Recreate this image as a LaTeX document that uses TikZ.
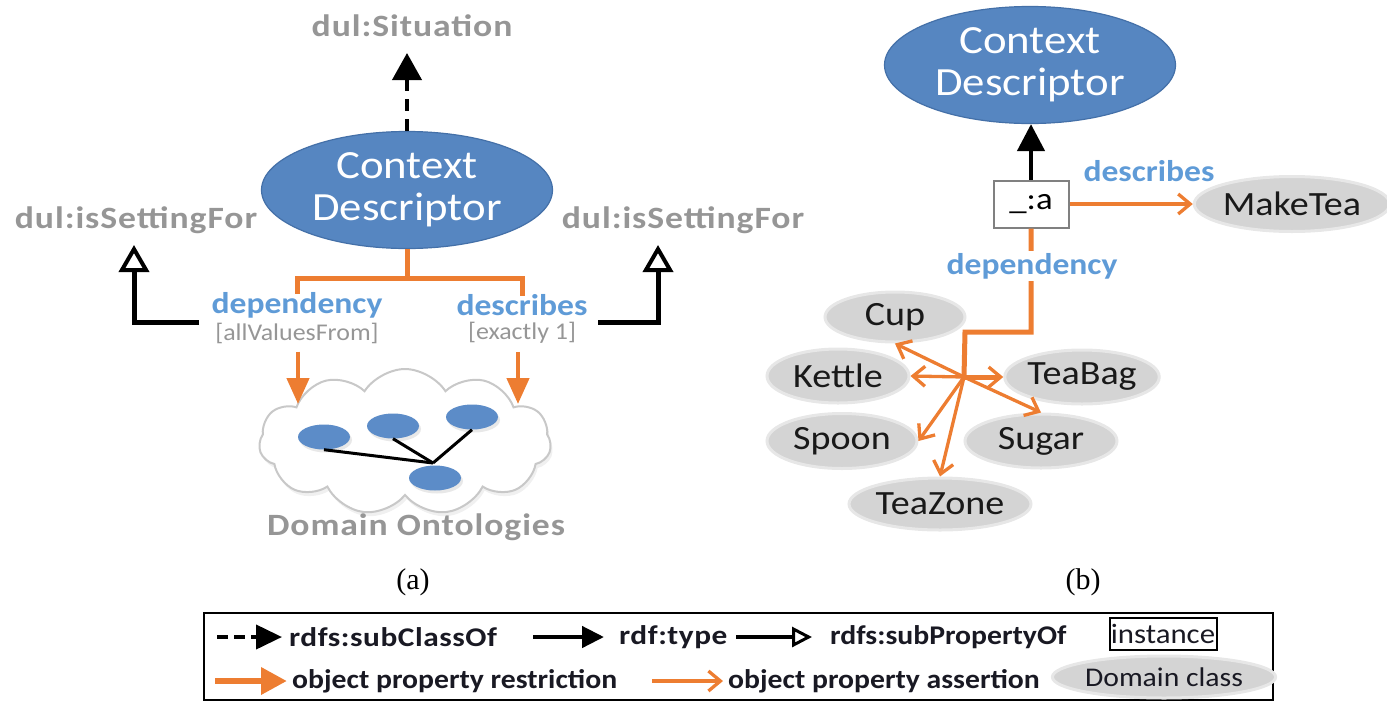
\documentclass[tikz,border=0pt]{standalone}
\usepackage{fontspec}
\setmainfont{Carlito}
\newfontfamily\serifnum{Liberation Serif}
\newfontfamily\fGray[FakeStretch=1.15,LetterSpace=3]{Carlito}
\newfontfamily\fWide[FakeStretch=1.12]{Carlito}
\newfontfamily\fCard[FakeStretch=1.08]{Carlito}
\newfontfamily\fLeg[FakeStretch=1.1]{Carlito}
\newfontfamily\fLegW[FakeStretch=1.16,LetterSpace=2]{Carlito}
\usetikzlibrary{arrows.meta,shapes.geometric,shapes.symbols,shadows}

\definecolor{cdblue}{RGB}{86,134,193}
\definecolor{cdedge}{RGB}{68,112,168}
\definecolor{lblue}{RGB}{95,155,215}
\definecolor{gtext}{RGB}{150,150,150}
\definecolor{orng}{RGB}{237,125,49}
\definecolor{dgray}{RGB}{212,212,212}
\definecolor{dkline}{RGB}{200,200,200}
\definecolor{legtext}{RGB}{25,25,35}
\definecolor{ontoblue}{RGB}{92,140,200}

\tikzset{
  cd/.style={ellipse, draw=cdedge, line width=1.2pt, fill=cdblue, text=white,
    align=center, inner sep=0pt, minimum width=291pt, minimum height=117pt,
    font=\fWide\fontsize{40}{42}\selectfont},
  glabel/.style={text=gtext, inner sep=0pt, font=\fGray\bfseries\fontsize{31}{34}\selectfont},
  blabel/.style={text=lblue, inner sep=0pt, font=\fWide\bfseries\fontsize{30}{34}\selectfont},
  card/.style={text=gtext, inner sep=0pt, font=\fCard\fontsize{24}{26}\selectfont},
  domcls/.style={ellipse, fill=dgray, draw=dgray!55, line width=3pt, inner sep=0pt,
    text=black!90, font=\fWide\fontsize{34}{36}\selectfont},
  onto/.style={ellipse, fill=ontoblue, inner sep=0pt, minimum width=52pt, minimum height=25pt,
    drop shadow={shadow xshift=2pt, shadow yshift=-3pt, opacity=0.18}},
  legtxt/.style={anchor=west, inner sep=0pt, text=legtext, font=\fLeg\bfseries\fontsize{27}{29}\selectfont},
  legtxtw/.style={legtxt, font=\fLegW\bfseries\fontsize{27}{29}\selectfont},
  caption/.style={inner sep=0pt, font=\serifnum\fontsize{30}{32}\selectfont},
  subclass/.style={draw=black, line width=4pt, dash pattern=on 12pt off 8pt,
    -{Triangle[length=27pt,width=29pt]}},
  rdftype/.style={draw=black, line width=4.5pt, -{Triangle[length=27pt,width=27pt]}},
  subprop/.style={draw=black, line width=5pt,
    -{Triangle[open,length=27pt,width=30pt,line width=4pt]}},
  restr/.style={draw=orng, line width=4.5pt, -{Triangle[length=26pt,width=22pt]}},
  assert/.style={draw=orng, line width=3.3pt,
    -{Straight Barb[length=12pt,width=20pt,line width=3.3pt]}},
  oline/.style={draw=orng, line width=5pt},
}

\begin{document}
\begin{tikzpicture}[x=1pt, y=-1pt]
\useasboundingbox (0,0) rectangle (1387,702);

% ---------- (a) the descriptor pattern ----------
\node[glabel] (sit) at (412,26) {dul:Situation};
\node[cd] (cd1) at (407,190) {Context\\Descriptor};
\coordinate (sitTip) at (407,53);
\draw[subclass] (cd1.north) -- (sitTip);

\node[glabel] (set1) at (136,220) {dul:isSettingFor};
\node[glabel] (set2) at (683,220) {dul:isSettingFor};

\node[blabel] (dep1) at (297,305) {dependency};
\node[card]   (allv) at (297,333) {[allValuesFrom]};
\node[blabel] (desc1) at (522,305) {describes};
\node[card]   (ex1) at (522,333) {[exactly 1]};

\coordinate (tj) at (407,278);
\draw[oline] (cd1.south) -- (tj);
\draw[oline, line join=miter] ([yshift=-2pt]dep1.north) -- (dep1.north |- tj) -- (desc1.north |- tj) -- ([yshift=-2pt]desc1.north);

% domain ontologies cloud
\node[cloud, cloud puffs=11, cloud puff arc=115, aspect=2, draw=dkline, line width=2pt,
      fill=white, minimum width=292pt, minimum height=146pt, inner sep=0pt,
      drop shadow={shadow xshift=2pt, shadow yshift=-4pt, opacity=0.12}] (cloud) at (405,442) {};
\node[onto] (do1) at (324,437) {};
\node[onto] (do2) at (393,426) {};
\node[onto] (do3) at (472,417) {};
\node[onto] (do4) at (435,478) {};
\coordinate (oj) at (433,463);
\draw[line width=3pt] (do1.south) -- (oj);
\draw[line width=3pt] (do2.south) -- (oj);
\draw[line width=3pt] (do3.south) -- (oj);
\node[glabel] (domtxt) at (416,527) {Domain Ontologies};

\coordinate (rl) at (298,404);
\coordinate (rr) at (518,404);
\draw[restr] ([yshift=-8pt]allv.south -| rl) -- (rl);
\draw[restr] ([yshift=-8pt]ex1.south -| rr) -- (rr);

% sub-property links
\coordinate (sls) at (199,322);
\coordinate (slt) at (134,245);
\draw[subprop] (sls) -| (slt);
\coordinate (srs) at (598,322);
\coordinate (srt) at (658,245);
\draw[subprop] (srs) -| (srt);

\node[caption] (capa) at (413,582) {(a)};

% ---------- (b) an instance of the pattern ----------
\node[cd] (cd2) at (1030,65) {Context\\Descriptor};
\node[draw=gray, line width=2pt, fill=white, minimum width=75pt, minimum height=47pt,
      inner sep=0pt, font=\fWide\fontsize{31}{33}\selectfont] (inst) at (1031,204) {\_:a};
\draw[rdftype] (inst.north) -- (inst.north |- cd2.south);

\node[blabel] (desc2) at (1149,171) {describes};
\node[domcls, minimum width=185pt, minimum height=55pt] (maketea) at (1292,204) {MakeTea};
\draw[assert] (inst.east) -- (maketea.west);

\node[domcls, minimum width=140pt, minimum height=50pt] (cup) at (895,317) {Cup};
\node[domcls, minimum width=142pt, minimum height=54pt] (kettle) at (838,376) {Kettle};
\node[domcls, minimum width=132pt, minimum height=54pt] (teabag) at (1082,377) {TeaBag};
\node[domcls, minimum width=150pt, minimum height=55pt] (spoon) at (842,441) {Spoon};
\node[domcls, minimum width=152pt, minimum height=54pt] (sugar) at (1041,441) {Sugar};
\node[domcls, minimum width=146pt, minimum height=52pt] (teazone) at (940,504) {TeaZone};

\coordinate (k1) at (1031,332);
\coordinate (k2) at (965,332);
\coordinate (hub) at (964,377);
\draw[oline, line join=miter] (inst.south) -- (k1) -- (k2) -- (hub);
\node[blabel, fill=white, inner ysep=2pt, inner xsep=1pt] (dep2) at (1032,266) {dependency};

\draw[assert] (hub) -- (cup.south);
\draw[assert] (hub) -- (kettle.east);
\draw[assert, line width=5pt] (hub) -- (teabag.west);
\draw[assert] (hub) -- (sugar.north);
\draw[assert] (hub) -- (spoon.east);
\draw[assert] (hub) -- (teazone.north);

\node[caption] (capb) at (1083,582) {(b)};

% ---------- legend ----------
\node[draw, line width=2pt, minimum width=1069pt, minimum height=87pt, inner sep=0pt] (leg) at (738.5,656) {};

\coordinate (l1a) at (217,637);
\coordinate (l1b) at (282,637);
\draw[draw=black, line width=4pt, dash pattern=on 11pt off 6pt, -{Triangle[length=26pt,width=24pt]}] (l1a) -- (l1b);
\node[legtxtw] (t1) at (289,637) {rdfs:subClassOf};

\coordinate (l2a) at (533,637);
\coordinate (l2b) at (604,637);
\draw[draw=black, line width=4.5pt, -{Triangle[length=22pt,width=21pt]}] (l2a) -- (l2b);
\node[legtxtw] (t2) at (619,637) {rdf:type};

\coordinate (l3a) at (736,637);
\coordinate (l3b) at (812,637);
\draw[draw=black, line width=3.5pt, -{Triangle[open,length=20pt,width=20pt,line width=3pt]}] (l3a) -- (l3b);
\node[legtxt] (t3) at (830,637) {rdfs:subPropertyOf};

\node[draw, line width=2pt, minimum width=107pt, minimum height=32pt, inner sep=0pt,
      text=legtext, font=\fLeg\fontsize{28}{30}\selectfont] (t4) at (1163,634) {instance};

\coordinate (l4a) at (215,681);
\coordinate (l4b) at (287,681);
\draw[draw=orng, line width=6.5pt, -{Triangle[length=26pt,width=26pt]}] (l4a) -- (l4b);
\node[legtxt] (t5) at (292,681) {object property restriction};

\coordinate (l5a) at (652,681);
\coordinate (l5b) at (723,681);
\draw[assert] (l5a) -- (l5b);
\node[legtxt] (t6) at (728,681) {object property assertion};

\node[domcls, minimum width=192pt, minimum height=42pt, text=legtext,
      font=\fLeg\fontsize{27}{29}\selectfont] (t7) at (1164,677) {Domain class};
\end{tikzpicture}
\end{document}
